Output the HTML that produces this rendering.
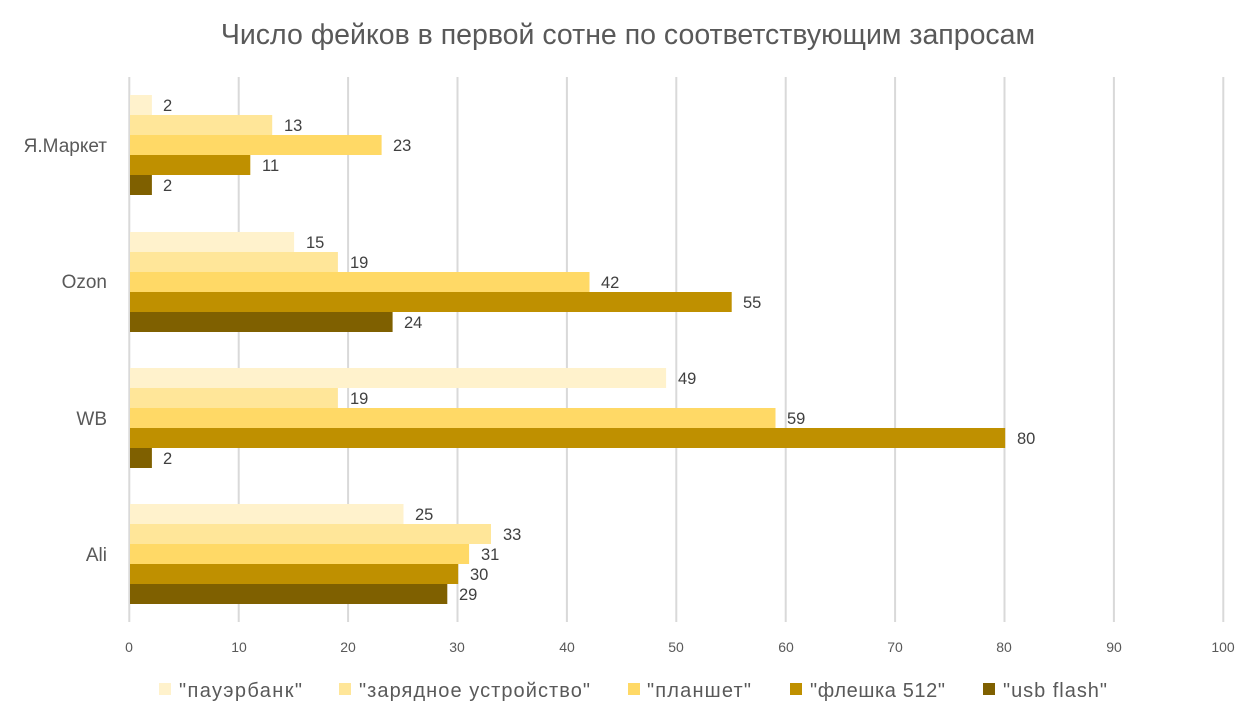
<!DOCTYPE html>
<html><head><meta charset="utf-8"><style>
html,body{margin:0;padding:0;background:#fff;}
svg{display:block;font-family:"Liberation Sans","DejaVu Sans",sans-serif;}
</style></head><body>
<svg width="1253" height="715" viewBox="0 0 1253 715" xmlns="http://www.w3.org/2000/svg">
<rect width="1253" height="715" fill="#fff"/>
<text x="628" y="44" text-anchor="middle" font-size="28.5" fill="#595959">Число фейков в первой сотне по соответствующим запросам</text>
<g stroke="#d9d9d9" stroke-width="2">
<line x1="129.3" y1="77" x2="129.3" y2="622"/>
<line x1="238.7" y1="77" x2="238.7" y2="622"/>
<line x1="348.1" y1="77" x2="348.1" y2="622"/>
<line x1="457.5" y1="77" x2="457.5" y2="622"/>
<line x1="566.9" y1="77" x2="566.9" y2="622"/>
<line x1="676.3" y1="77" x2="676.3" y2="622"/>
<line x1="785.7" y1="77" x2="785.7" y2="622"/>
<line x1="895.1" y1="77" x2="895.1" y2="622"/>
<line x1="1004.5" y1="77" x2="1004.5" y2="622"/>
<line x1="1113.9" y1="77" x2="1113.9" y2="622"/>
<line x1="1223.3" y1="77" x2="1223.3" y2="622"/>
</g>
<g font-size="14" fill="#595959" text-anchor="middle">
<text x="129" y="652">0</text><text x="239" y="652">10</text><text x="348" y="652">20</text><text x="457" y="652">30</text><text x="567" y="652">40</text><text x="676" y="652">50</text><text x="786" y="652">60</text><text x="895" y="652">70</text><text x="1004" y="652">80</text><text x="1114" y="652">90</text><text x="1223" y="652">100</text>
</g>
<g font-size="19" fill="#595959" text-anchor="end">
<text x="107" y="152">Я.Маркет</text>
<text x="107" y="288">Ozon</text>
<text x="107" y="425">WB</text>
<text x="107" y="561">Ali</text>
</g>
<g font-size="16.5" fill="#404040">
<rect x="130" y="95" width="21.9" height="20" fill="#FFF2CC"/><text x="163" y="111">2</text>
<rect x="130" y="115" width="142.2" height="20" fill="#FFE699"/><text x="284" y="131">13</text>
<rect x="130" y="135" width="251.6" height="20" fill="#FFD966"/><text x="393" y="151">23</text>
<rect x="130" y="155" width="120.3" height="20" fill="#BF9000"/><text x="262" y="171">11</text>
<rect x="130" y="175" width="21.9" height="20" fill="#7F6000"/><text x="163" y="191">2</text>
<rect x="130" y="232" width="164.1" height="20" fill="#FFF2CC"/><text x="306" y="248">15</text>
<rect x="130" y="252" width="207.9" height="20" fill="#FFE699"/><text x="350" y="268">19</text>
<rect x="130" y="272" width="459.5" height="20" fill="#FFD966"/><text x="601" y="288">42</text>
<rect x="130" y="292" width="601.7" height="20" fill="#BF9000"/><text x="743" y="308">55</text>
<rect x="130" y="312" width="262.6" height="20" fill="#7F6000"/><text x="404" y="328">24</text>
<rect x="130" y="368" width="536.1" height="20" fill="#FFF2CC"/><text x="678" y="384">49</text>
<rect x="130" y="388" width="207.9" height="20" fill="#FFE699"/><text x="350" y="404">19</text>
<rect x="130" y="408" width="645.5" height="20" fill="#FFD966"/><text x="787" y="424">59</text>
<rect x="130" y="428" width="875.2" height="20" fill="#BF9000"/><text x="1017" y="444">80</text>
<rect x="130" y="448" width="21.9" height="20" fill="#7F6000"/><text x="163" y="464">2</text>
<rect x="130" y="504" width="273.5" height="20" fill="#FFF2CC"/><text x="415" y="520">25</text>
<rect x="130" y="524" width="361" height="20" fill="#FFE699"/><text x="503" y="540">33</text>
<rect x="130" y="544" width="339.1" height="20" fill="#FFD966"/><text x="481" y="560">31</text>
<rect x="130" y="564" width="328.2" height="20" fill="#BF9000"/><text x="470" y="580">30</text>
<rect x="130" y="584" width="317.3" height="20" fill="#7F6000"/><text x="459" y="600">29</text>
</g>
<g font-size="20" fill="#595959">
<rect x="159" y="683" width="12" height="12" fill="#FFF2CC"/><text x="179" y="697" textLength="123">"пауэрбанк"</text>
<rect x="339" y="683" width="12" height="12" fill="#FFE699"/><text x="359" y="697" textLength="231">"зарядное устройство"</text>
<rect x="628" y="683" width="12" height="12" fill="#FFD966"/><text x="647" y="697" textLength="104">"планшет"</text>
<rect x="790" y="683" width="12" height="12" fill="#BF9000"/><text x="810" y="697" textLength="135">"флешка 512"</text>
<rect x="983" y="683" width="12" height="12" fill="#7F6000"/><text x="1003" y="697" textLength="104">"usb flash"</text>
</g>
</svg>
</body></html>
